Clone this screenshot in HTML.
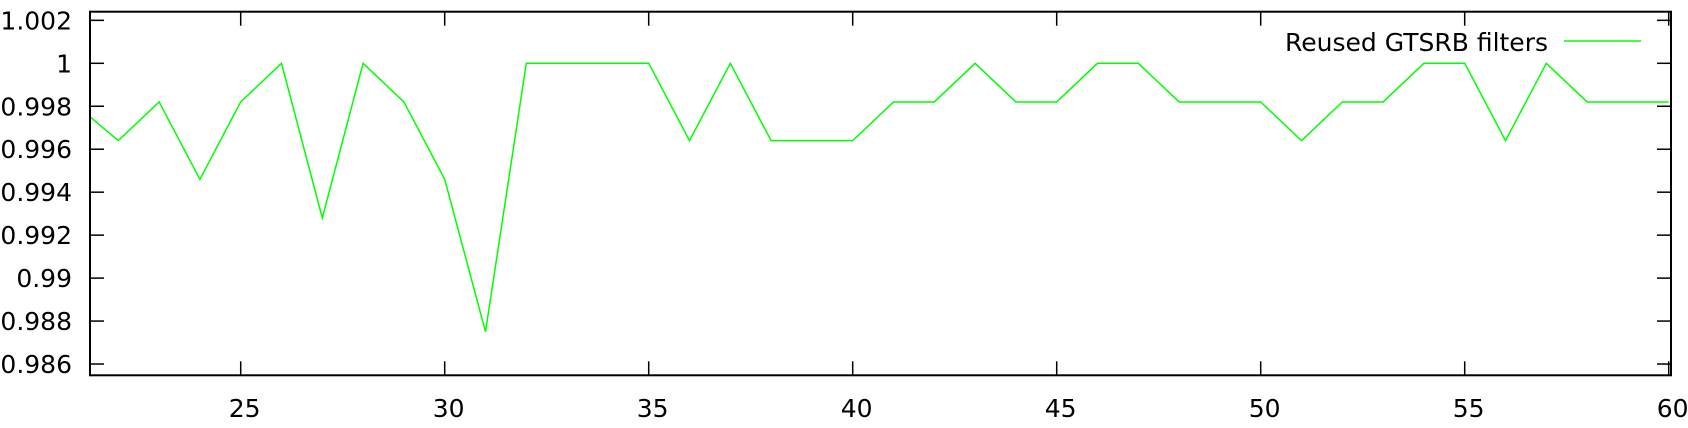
<!DOCTYPE html>
<html><head><meta charset="utf-8">
<style>
html,body{margin:0;padding:0;background:#fff;}
svg{display:block;font-family:"DejaVu Sans","Liberation Sans",sans-serif;}
</style></head>
<body>
<svg id="chart" width="1688" height="428" viewBox="0 0 1688 428" xmlns="http://www.w3.org/2000/svg">
<defs><clipPath id="clip"><rect x="90" y="11.7" width="1581" height="363.6"/></clipPath></defs>
<g id="axes"></g>
<g id="series" clip-path="url(#clip)"></g>
<g id="legend">
<text x="1548" y="51" font-size="25" text-anchor="end" fill="#000">Reused GTSRB filters</text>
<line x1="1564" y1="41" x2="1641" y2="41" stroke="#00ff00" stroke-width="1.5"/>
</g>
<rect x="90" y="11.7" width="1581" height="363.6" fill="none" stroke="#000" stroke-width="2"/>
</svg>
<script>
const xValues = [21,22,23,24,25,26,27,28,29,30,31,32,33,34,35,36,37,38,39,40,41,42,43,44,45,46,47,48,49,50,51,52,53,54,55,56,57,58,59,60];
const accuracy = [0.998,0.9964,0.9982,0.9946,0.9982,1,0.9928,1,0.9982,0.9946,0.9875,1,1,1,1,0.9964,1,0.9964,0.9964,0.9964,0.9982,0.9982,1,0.9982,0.9982,1,1,0.9982,0.9982,0.9982,0.9964,0.9982,0.9982,1,1,0.9964,1,0.9982,0.9982,0.9982];
const yTicks = [0.986,0.988,0.99,0.992,0.994,0.996,0.998,1,1.002];
const yTickLabels = ["0.986","0.988","0.99","0.992","0.994","0.996","0.998","1","1.002"];
const xTicks = [25,30,35,40,45,50,55,60];
const xTickLabels = ["25","30","35","40","45","50","55","60"];

const NS = "http://www.w3.org/2000/svg";
function xScale(v){ return 240.7 + (v - 25) * 40.8; }
function yScale(v){ return 63.3 + (1 - v) / 0.002 * 42.96; }
const axes = document.getElementById('axes');
const series = document.getElementById('series');
function mk(tag, attrs, parent){
  const e = document.createElementNS(NS, tag);
  for (const k in attrs) e.setAttribute(k, attrs[k]);
  parent.appendChild(e);
  return e;
}
const L = 90, R = 1671, T = 11.7, B = 375.3, TL = 14;
yTicks.forEach((v, i) => {
  const y = yScale(v);
  const t1 = mk('line', {x1: L, y1: y, x2: L + TL, y2: y, stroke: '#000', 'stroke-width': 1.5}, axes);
  
  
  const t2 = mk('line', {x1: R - TL, y1: y, x2: R, y2: y, stroke: '#000', 'stroke-width': 1.5}, axes);
  
  
  const tx = mk('text', {x: 72, y: y + 9, 'font-size': 25, 'text-anchor': 'end', fill: '#000'}, axes);
  tx.textContent = yTickLabels[i];
  
  
});
xTicks.forEach((v, i) => {
  const x = xScale(v);
  const t1 = mk('line', {x1: x, y1: B, x2: x, y2: B - TL, stroke: '#000', 'stroke-width': 1.5}, axes);
  
  
  const t2 = mk('line', {x1: x, y1: T, x2: x, y2: T + TL, stroke: '#000', 'stroke-width': 1.5}, axes);
  
  
  const tx = mk('text', {x: x + 4, y: 417, 'font-size': 25, 'text-anchor': 'middle', fill: '#000'}, axes);
  tx.textContent = xTickLabels[i];
  
  
});
const pts = xValues.map((x, i) => xScale(x).toFixed(2) + ',' + yScale(accuracy[i]).toFixed(2)).join(' ');
const line = mk('polyline', {points: pts, fill: 'none', stroke: '#00ff00', 'stroke-width': 1.5, 'stroke-linejoin': 'miter'}, series);


</script>
</body></html>
